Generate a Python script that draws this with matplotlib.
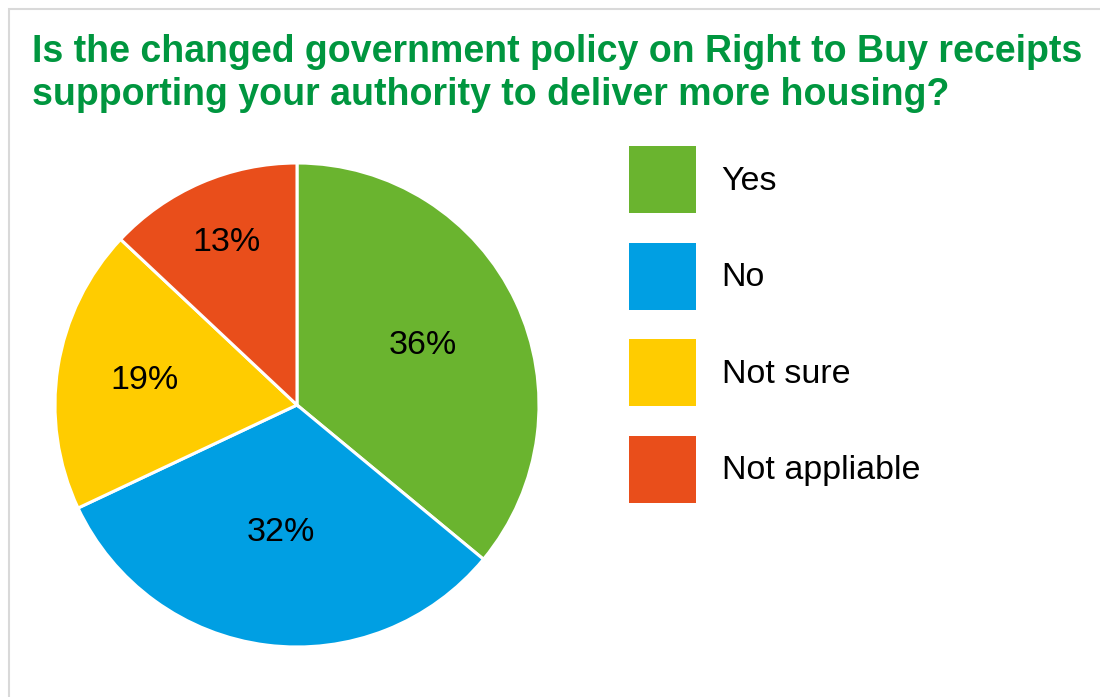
import matplotlib
matplotlib.use("Agg")
import matplotlib.pyplot as plt
from matplotlib.patches import Patch, Rectangle
import numpy as np

plt.rcParams['font.family'] = ['Liberation Sans', 'DejaVu Sans']

title = "Is the changed government policy on Right to Buy receipts\nsupporting your authority to deliver more housing?"
categories = ["Yes", "No", "Not sure", "Not appliable"]
values = [36, 32, 19, 13]
colors = ["#6AB42F", "#009FE3", "#FFCC00", "#E94E1B"]
label_dist = [0.575, 0.53, 0.64, 0.73]

W, H = 1100, 697
fig = plt.figure(figsize=(W / 100, H / 100), dpi=100)
fig.patch.set_facecolor("white")

# light border (top/left visible)
fig.patches.append(Rectangle((9 / W, -0.05), 1.2, 1 - 9 / H + 0.05, transform=fig.transFigure,
                             fill=False, edgecolor="#d9d9d9", linewidth=1.5))

cx, cy, r = 297, 405, 242
ax = fig.add_axes([(cx - r) / W, (H - cy - r) / H, 2 * r / W, 2 * r / H])
wedges, _ = ax.pie(values, colors=colors, startangle=90, counterclock=False,
                   wedgeprops=dict(edgecolor="white", linewidth=2.2), radius=1)
ax.set_xlim(-1, 1)
ax.set_ylim(-1, 1)
ax.set_aspect("equal")
ax.axis("off")

for w, v, d in zip(wedges, values, label_dist):
    ang = np.deg2rad((w.theta1 + w.theta2) / 2)
    ax.text(d * np.cos(ang), d * np.sin(ang), f"{v}%", ha="center", va="center",
            fontsize=24.5, color="black")

fig.text(32 / W, 1 - 34 / H, title, ha="left", va="top", fontsize=27, fontweight="bold",
         color="#00963F", linespacing=1.25)

handles = [Patch(facecolor=c, edgecolor="none") for c in colors]
fig.legend(handles, categories, loc="upper left", bbox_to_anchor=(629 / W, 1 - 146 / H),
           frameon=False, fontsize=24.5, handlelength=2.0 * 24 / 24.5, handleheight=2.72 * 24 / 24.5,
           handletextpad=0.76, labelspacing=0.86, borderpad=0, borderaxespad=0)

fig.savefig("out.png", dpi=100, facecolor="white")
